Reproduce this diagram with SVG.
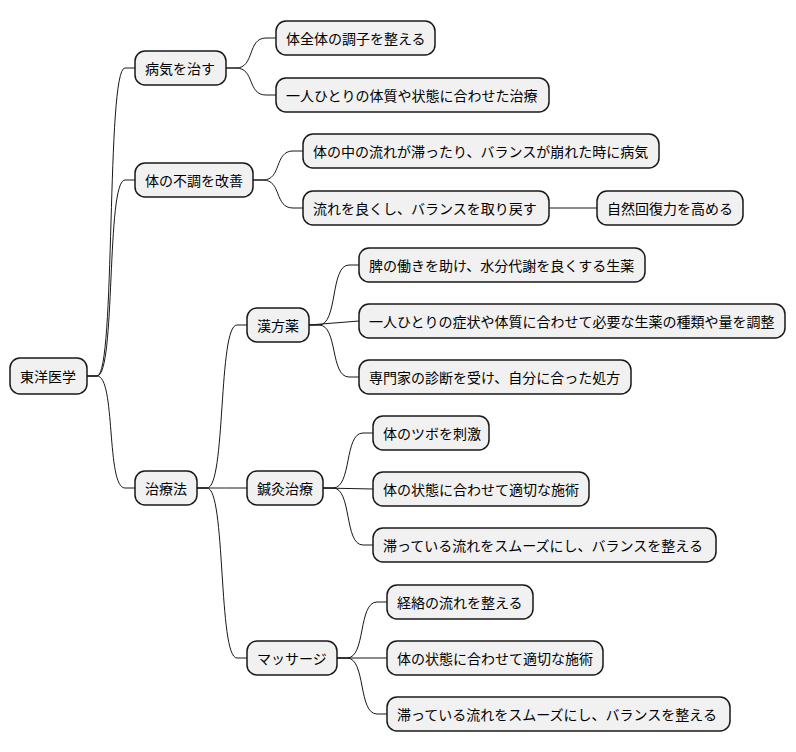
<svg xmlns="http://www.w3.org/2000/svg" width="796" height="752" viewBox="0 0 796 752">
<style>
rect{fill:#f1f1f1;stroke:#181818;stroke-width:1.5}
text{font-family:"Noto Sans CJK JP","Noto Sans CJK SC",sans-serif;font-size:14px;fill:#000;dominant-baseline:central}
.c path{fill:none;stroke:#181818;stroke-width:1}
</style>
<rect width="796" height="752" fill="#fff" style="stroke:none;fill:#fff"/>
<g class="c">
<path d="M87 376 L97 376 C116 376 106 68 125 68 L135 68"/>
<path d="M87 376 L97 376 C116 376 106 180 125 180 L135 180"/>
<path d="M87 376 L97 376 C116 376 106 488 125 488 L135 488"/>
<path d="M226 68 L236 68 C255 68 247 38 266 38 L276 38"/>
<path d="M226 68 L236 68 C255 68 247 95 266 95 L276 95"/>
<path d="M253 180 L263 180 C282 180 274 151 293 151 L303 151"/>
<path d="M253 180 L263 180 C282 180 274 208 293 208 L303 208"/>
<path d="M549 208 L597 208"/>
<path d="M197 488 L207 488 C226 488 218 325 237 325 L247 325"/>
<path d="M197 488 L207 488 C226 488 218 488 237 488 L247 488"/>
<path d="M197 488 L207 488 C226 488 218 658 237 658 L247 658"/>
<path d="M309 325 L319 325 C338 325 330 265 349 265 L359 265"/>
<path d="M309 325 L359 321"/>
<path d="M309 325 L319 325 C338 325 330 377 349 377 L359 377"/>
<path d="M323 488 L333 488 C352 488 344 433 363 433 L373 433"/>
<path d="M323 488 L373 489"/>
<path d="M323 488 L333 488 C352 488 344 545 363 545 L373 545"/>
<path d="M337 658 L347 658 C366 658 358 602 377 602 L387 602"/>
<path d="M337 658 L387 658"/>
<path d="M337 658 L347 658 C366 658 358 714 377 714 L387 714"/>
</g>
<g id="n0"><rect x="10" y="358" width="77" height="36" rx="10"/><text x="20" y="376">東洋医学</text></g>
<g id="n1"><rect x="135" y="51" width="91" height="34" rx="10"/><text x="145" y="68">病気を治す</text></g>
<g id="n2"><rect x="135" y="163" width="118" height="34" rx="10"/><text x="145" y="180">体の不調を改善</text></g>
<g id="n3"><rect x="135" y="471" width="62" height="34" rx="10"/><text x="145" y="488">治療法</text></g>
<g id="n4"><rect x="276" y="21" width="159" height="34" rx="10"/><text x="286" y="38">体全体の調子を整える</text></g>
<g id="n5"><rect x="276" y="78" width="273" height="34" rx="10"/><text x="286" y="95">一人ひとりの体質や状態に合わせた治療</text></g>
<g id="n6"><rect x="303" y="134" width="356" height="34" rx="10"/><text x="313" y="151">体の中の流れが滞ったり、バランスが崩れた時に病気</text></g>
<g id="n7"><rect x="303" y="191" width="246" height="34" rx="10"/><text x="313" y="208">流れを良くし、バランスを取り戻す</text></g>
<g id="n8"><rect x="597" y="191" width="146" height="34" rx="10"/><text x="607" y="208">自然回復力を高める</text></g>
<g id="n9"><rect x="247" y="308" width="62" height="34" rx="10"/><text x="257" y="325">漢方薬</text></g>
<g id="n10"><rect x="359" y="248" width="286" height="34" rx="10"/><text x="369" y="265">脾の働きを助け、水分代謝を良くする生薬</text></g>
<g id="n11"><rect x="359" y="304" width="426" height="34" rx="10"/><text x="369" y="321">一人ひとりの症状や体質に合わせて必要な生薬の種類や量を調整</text></g>
<g id="n12"><rect x="359" y="360" width="272" height="34" rx="10"/><text x="369" y="377">専門家の診断を受け、自分に合った処方</text></g>
<g id="n13"><rect x="247" y="471" width="76" height="34" rx="10"/><text x="257" y="488">鍼灸治療</text></g>
<g id="n14"><rect x="373" y="416" width="116" height="34" rx="10"/><text x="383" y="433">体のツボを刺激</text></g>
<g id="n15"><rect x="373" y="472" width="216" height="34" rx="10"/><text x="383" y="489">体の状態に合わせて適切な施術</text></g>
<g id="n16"><rect x="373" y="528" width="343" height="34" rx="10"/><text x="383" y="545">滞っている流れをスムーズにし、バランスを整える</text></g>
<g id="n17"><rect x="247" y="641" width="90" height="34" rx="10"/><text x="257" y="658">マッサージ</text></g>
<g id="n18"><rect x="387" y="585" width="146" height="34" rx="10"/><text x="397" y="602">経絡の流れを整える</text></g>
<g id="n19"><rect x="387" y="641" width="216" height="34" rx="10"/><text x="397" y="658">体の状態に合わせて適切な施術</text></g>
<g id="n20"><rect x="387" y="697" width="343" height="34" rx="10"/><text x="397" y="714">滞っている流れをスムーズにし、バランスを整える</text></g>
</svg>
